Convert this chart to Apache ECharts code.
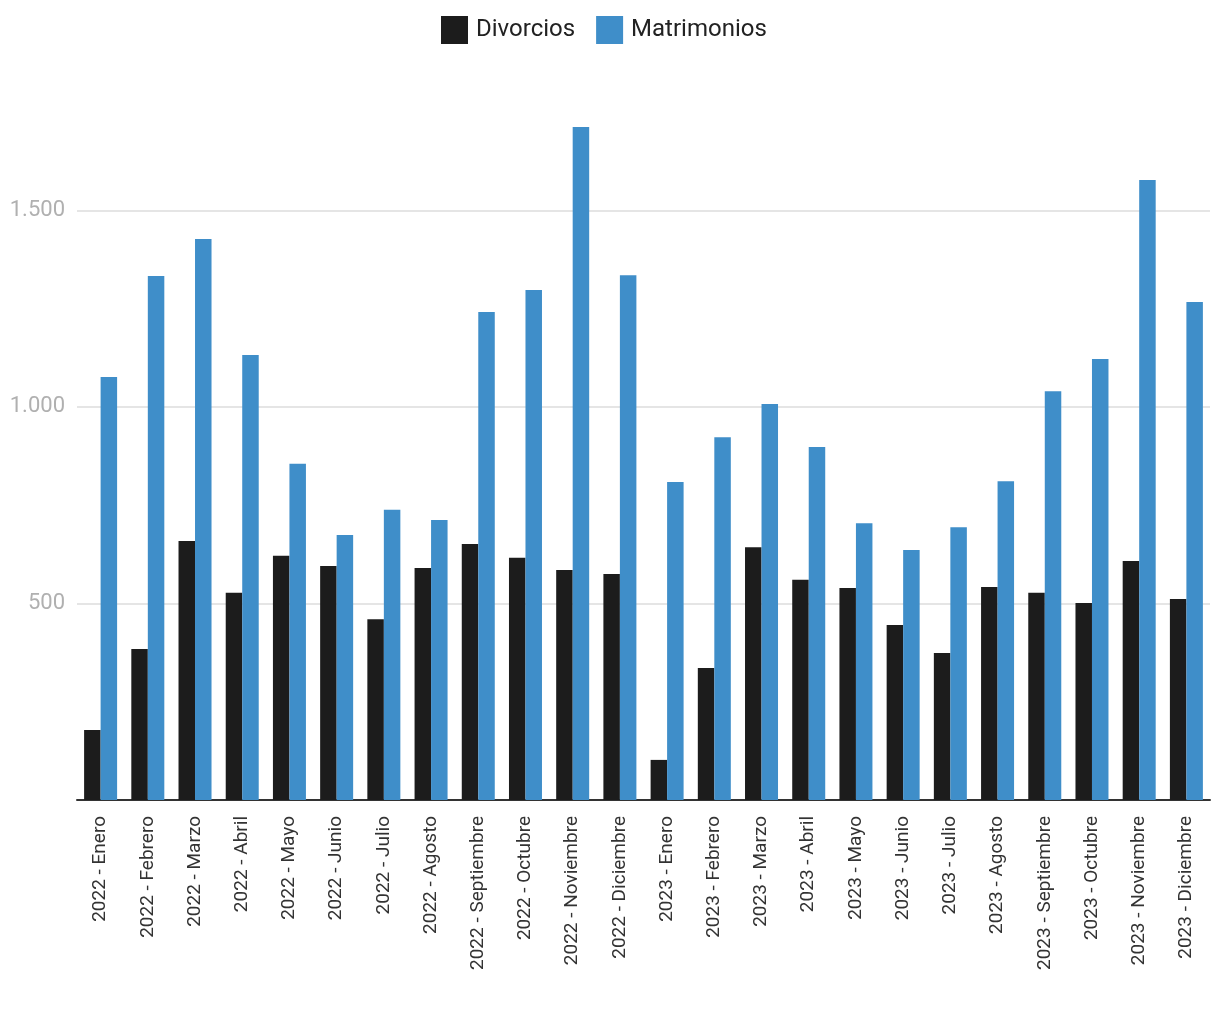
<!DOCTYPE html>
<html>
<head>
<meta charset="utf-8">
<script src="https://cdn.jsdelivr.net/npm/echarts@6/dist/echarts.min.js"></script>
<style>
html,body{margin:0;padding:0;background:#fff;}
#chart{width:1220px;height:1020px;}
</style>
</head>
<body>
<div id="chart"></div>
<script>
const categories = [
  "2022 - Enero","2022 - Febrero","2022 - Marzo","2022 - Abril","2022 - Mayo","2022 - Junio",
  "2022 - Julio","2022 - Agosto","2022 - Septiembre","2022 - Octubre","2022 - Noviembre","2022 - Diciembre",
  "2023 - Enero","2023 - Febrero","2023 - Marzo","2023 - Abril","2023 - Mayo","2023 - Junio",
  "2023 - Julio","2023 - Agosto","2023 - Septiembre","2023 - Octubre","2023 - Noviembre","2023 - Diciembre"
];
const divorcios = [178,384,659,527,621,595,460,590,651,616,585,575,102,336,643,560,539,445,374,542,527,501,608,511];
const matrimonios = [1076,1333,1427,1132,855,674,738,712,1241,1297,1712,1335,809,923,1007,898,704,636,694,811,1040,1122,1577,1267];
const yTicks = [500,1000,1500];

const chart = echarts.init(document.getElementById('chart'));
chart.setOption({
  animation:false,
  backgroundColor:'#fff',
  legend:{
    top:11,left:436,
    itemWidth:27,itemHeight:28,itemGap:21,
    icon:'rect',
    textStyle:{fontFamily:'Roboto',fontSize:24,color:'#222',padding:[0,0,0,3]},
    data:['Divorcios','Matrimonios']
  },
  grid:{left:77,right:10,top:112,bottom:220,containLabel:false},
  xAxis:{
    type:'category',
    data:categories,
    axisLine:{lineStyle:{color:'#333',width:2}},
    axisTick:{show:false},
    axisLabel:{rotate:90,interval:0,fontFamily:'Roboto',fontSize:19,color:'#333',margin:16}
  },
  yAxis:{
    type:'value',min:0,max:1750,interval:500,
    axisLine:{show:false},axisTick:{show:false},
    axisLabel:{
      fontFamily:'Roboto',fontSize:22,color:'#b0b0b0',margin:12,
      formatter:v=>{ if(!yTicks.includes(v)) return ''; const s=String(v); return s.length>3 ? s.slice(0,s.length-3)+'.'+s.slice(-3) : s; }
    },
    splitLine:{lineStyle:{color:['transparent','#e5e5e5','#e5e5e5','#e5e5e5','transparent'],width:2}}
  },
  series:[
    {name:'Divorcios',type:'bar',data:divorcios,itemStyle:{color:'#1c1c1c'},barWidth:16.5,barGap:'0%'},
    {name:'Matrimonios',type:'bar',data:matrimonios,itemStyle:{color:'#3f8ec9'},barWidth:16.5,barGap:'0%'}
  ]
});
</script>
</body>
</html>
